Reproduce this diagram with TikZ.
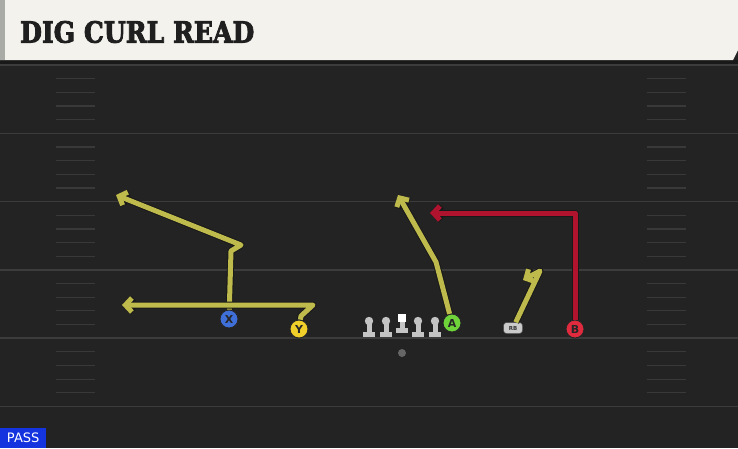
\documentclass[tikz,border=0pt]{standalone}
\usepackage{fontspec}
\setmainfont{DejaVu Sans}
\newfontfamily\titlefont[FakeBold=3]{DejaVu Serif}
\usetikzlibrary{arrows.meta,positioning}

\definecolor{fieldbg}{HTML}{232323}
\definecolor{yardline}{HTML}{3C3C3C}
\definecolor{hashmark}{HTML}{393939}
\definecolor{headerbg}{HTML}{F4F2EC}
\definecolor{headeredge}{HTML}{A9ABA6}
\definecolor{routeyellow}{HTML}{BEBB4C}
\definecolor{routered}{HTML}{B0132E}
\definecolor{xblue}{HTML}{3F6FD8}
\definecolor{yyellow}{HTML}{F0CF2A}
\definecolor{agreen}{HTML}{6FD33A}
\definecolor{bred}{HTML}{E02A3E}
\definecolor{linegray}{HTML}{C4C4C4}
\definecolor{passblue}{HTML}{1434E0}

\tikzset{
  player/.style={circle, minimum size=18pt, inner sep=0pt, draw=black!85, line width=0.9pt,
    text=black!85, font=\bfseries\fontsize{11}{11}\selectfont},
  rbbox/.style={rectangle, rounded corners=3pt, minimum width=19pt, minimum height=11pt, inner sep=0pt,
    fill=linegray!90, draw=black!70, line width=0.5pt, text=black!80, font=\bfseries\fontsize{5.5}{5.5}\selectfont},
  route/.style={draw=routeyellow, line width=5pt, line join=round,
    preaction={draw=black!90, line width=7pt, line join=round},
    -{Straight Barb[length=6.5pt,width=14pt]}},
  redroute/.style={route, draw=routered}
}

\begin{document}
\begin{tikzpicture}[x=1pt, y=-1pt]
  \useasboundingbox (0,0) rectangle (738,448);
  % field
  \fill[fieldbg] (0,0) rectangle (738,448);
  \fill[black!90] (0,60) rectangle (738,64);
  \foreach \yy in {65,133.3,201.6,269.9,338.2,406.5}
    \draw[yardline, line width=1.5pt] (0,\yy) -- (738,\yy);
  \foreach \yy in {65,133.3,201.6,269.9,338.2}
    \foreach \k in {1,2,3,4} {
      \draw[hashmark, line width=1.2pt] (56,\yy+\k*13.66) -- (95,\yy+\k*13.66);
      \draw[hashmark, line width=1.2pt] (647,\yy+\k*13.66) -- (686,\yy+\k*13.66);
    }

  % header
  \fill[headerbg] (0,0) -- (738,0) -- (738,50) -- (733,60) -- (0,60) -- cycle;
  \fill[headeredge] (0,0) rectangle (5,60);
  \node[anchor=west, inner sep=0pt, xscale=0.93, yscale=1.08, text=black!88, font=\titlefont\bfseries\fontsize{27}{27}\selectfont]
    (title) at (20,32) {DIG CURL READ};

  % line
  \foreach \lx in {369,386,418,435} {
    \fill[linegray] (\lx-6,332) rectangle (\lx+6,337);
    \fill[linegray] (\lx-2.5,322) rectangle (\lx+2.5,333);
    \fill[linegray] (\lx,321) circle (4.2);
  }
  \fill[linegray] (396,328) rectangle (408,333);
  \fill[linegray] (399.5,320) rectangle (404.5,329);
  \fill[white] (398,314) rectangle (406,322);
  \node[circle, fill=gray!80!black, minimum size=8pt, inner sep=0pt] (ball) at (402,353) {};

  % players
  \node[player, fill=xblue] (X) at (229,319) {X};
  \node[player, fill=yyellow] (Y) at (299,329) {Y};
  \node[player, fill=agreen] (A) at (452,323) {A};
  \node[player, fill=bred] (B) at (575,329) {B};
  \node[rbbox] (RB) at (513,328) {RB};

  % routes
  \coordinate (x1) at (231,251);
  \coordinate (x2) at (241,245);
  \coordinate (x3) at (116,195);
  \coordinate (y1) at (301,316);
  \coordinate (y2) at (313,305);
  \coordinate (y3) at (122,305);
  \coordinate (a1) at (436,262);
  \coordinate (a2) at (398,195);
  \coordinate (r1) at (540,271);
  \coordinate (r2) at (523,280);
  \coordinate (b1) at (575,213);
  \coordinate (b2) at (430,213);
  \draw[route] (X) -- (x1) -- (x2) -- (x3);
  \draw[route] (Y) -- (y1) -- (y2) -- (y3);
  \draw[route] (A) -- (a1) -- (a2);
  \draw[route] (RB) -- (r1) -- (r2);
  \draw[redroute] (B) -- (b1) -- (b2);

  % tag
  \node[anchor=south west, fill=passblue, text=white, minimum width=46pt, minimum height=20pt, inner sep=0pt,
    font=\fontsize{13}{13}\selectfont] (pass) at (0,448) {PASS};
\end{tikzpicture}
\end{document}
